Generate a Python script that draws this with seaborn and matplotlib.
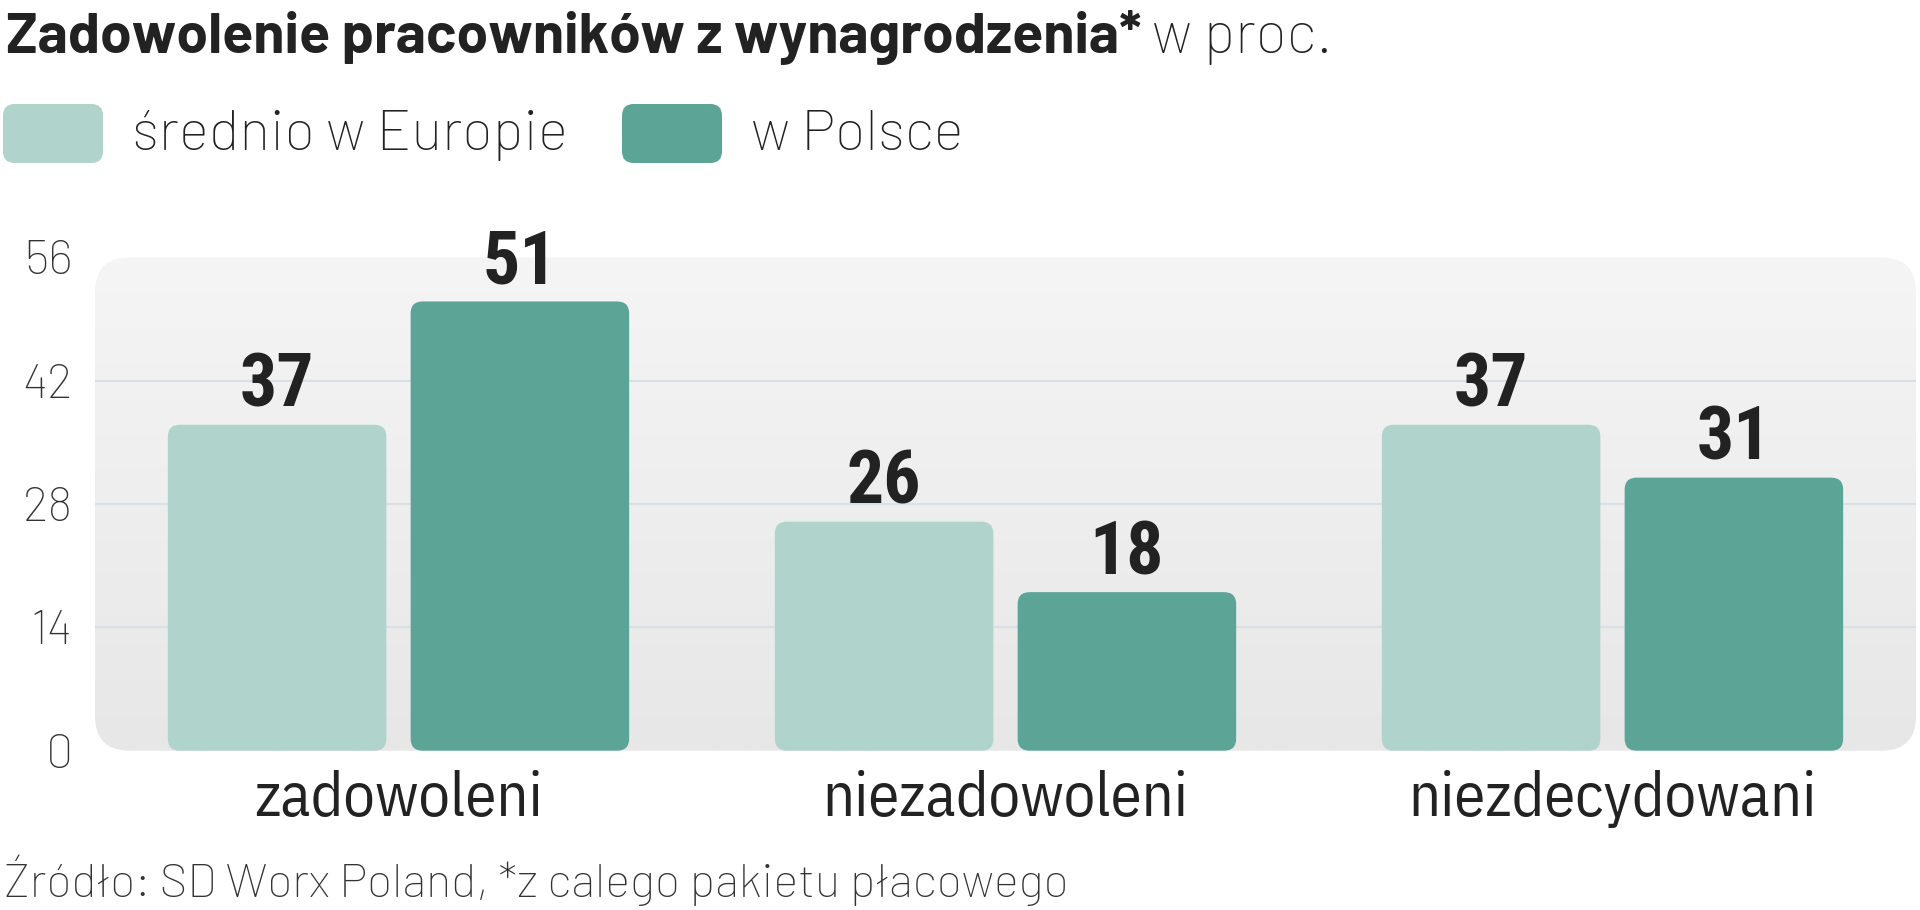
import matplotlib
matplotlib.use("Agg")
import numpy as np
import pandas as pd
import matplotlib.pyplot as plt
import seaborn as sns
from matplotlib.patches import FancyBboxPatch
from matplotlib.colors import LinearSegmentedColormap

categories = ["zadowoleni", "niezadowoleni", "niezdecydowani"]
series = ["średnio w Europie", "w Polsce"]
europe = [37, 26, 37]
poland = [51, 18, 31]
y_ticks = [0, 14, 28, 42, 56]

title_bold = "Zadowolenie pracowników z wynagrodzenia*"
title_light = "w proc."
source = "Źródło: SD Worx Poland, *z calego pakietu płacowego"

COLORS = ["#b0d3cc", "#5ca596"]
TEXT = "#222222"
LIGHT = "Barlow"
BOLD_NUM = "Roboto Condensed"
CAT = "IBM Plex Sans Condensed"

W, H = 1920, 910


def fx(px):
    return px / W


def fy(py):
    return 1 - py / H


sns.set_theme(style="white")
plt.rcParams["font.family"] = [LIGHT, "DejaVu Sans"]

df = pd.DataFrame({
    "kategoria": categories * 2,
    "seria": [series[0]] * len(categories) + [series[1]] * len(categories),
    "wartosc": europe + poland,
})

fig = plt.figure(figsize=(W / 100, H / 100), dpi=100)
ax = fig.add_axes([fx(95), fy(750.7), fx(1821), 493.3 / H])

sns.barplot(data=df, x="kategoria", y="wartosc", hue="seria", palette=COLORS,
            width=0.8, gap=0.1, saturation=1, legend=False, ax=ax)

# rounded gradient background
bg = FancyBboxPatch((0, 0), 1, 1, boxstyle="round,pad=0,rounding_size=0.019",
                    mutation_aspect=3.7, transform=ax.transAxes, fc="none", ec="none")
ax.add_patch(bg)
grad = np.linspace(0, 1, 256).reshape(-1, 1)
cmap = LinearSegmentedColormap.from_list("bg", ["#e7e7e7", "#f5f5f6"])
im = ax.imshow(grad, extent=[0, 1, 0, 1], transform=ax.transAxes, origin="lower",
               cmap=cmap, aspect="auto", zorder=0, interpolation="bilinear")
im.set_clip_path(bg)

# rounded bars + value labels
for bar in list(ax.patches):
    if bar is bg:
        continue
    x, w, h = bar.get_x(), bar.get_width(), bar.get_height()
    rb = FancyBboxPatch((x, 0), w, h, boxstyle="round,pad=0,rounding_size=0.02",
                        mutation_aspect=68, fc=bar.get_facecolor(), ec="none", zorder=3)
    bar.remove()
    ax.add_patch(rb)
    ax.annotate(f"{h:.0f}", (x + w / 2, h), xytext=(0, 13), textcoords="offset points",
                ha="center", va="baseline", fontsize=53, fontweight="bold",
                family=BOLD_NUM, color=TEXT, zorder=4)

ax.set_xlim(-0.5, 2.5)
ax.set_ylim(0, 56)
ax.set_yticks(y_ticks)
ax.set_xlabel("")
ax.set_ylabel("")
ax.patch.set_visible(False)
for s in ax.spines.values():
    s.set_visible(False)

ax.set_axisbelow(True)
ax.yaxis.grid(True, color="#d8e0e6", linewidth=1.5)
grid = ax.yaxis.get_gridlines()
grid[0].set_visible(False)
grid[-1].set_visible(False)

ax.tick_params(axis="y", length=0, pad=16, labelsize=35, labelcolor="#333333")
ax.tick_params(axis="x", length=0, pad=14, labelsize=45, labelcolor=TEXT)
for lab in ax.get_yticklabels():
    lab.set_fontweight("light")
for lab in ax.get_xticklabels():
    lab.set_family(CAT)

# title
t1 = fig.text(fx(6), fy(53), title_bold, family=LIGHT, fontweight="bold",
              fontsize=41, color=TEXT, va="baseline")
fig.canvas.draw()
ext = t1.get_window_extent()
fig.text((ext.x1 + 10) / W, fy(53), title_light, family=LIGHT, fontweight="light",
         fontsize=42, color=TEXT, va="baseline")

# legend
for (x0, label), col in zip([(3, series[0]), (622, series[1])], COLORS):
    fig.patches.append(FancyBboxPatch((fx(x0), fy(163)), fx(100), 59 / H,
                                      boxstyle="round,pad=0,rounding_size=0.006",
                                      mutation_aspect=2.1, transform=fig.transFigure,
                                      fc=col, ec="none", figure=fig))
    fig.text(fx(x0 + 129), fy(150), label, family=LIGHT, fontweight="light",
             fontsize=41, color=TEXT, va="baseline")

fig.text(fx(4), fy(897), source, family=LIGHT, fontweight="light",
         fontsize=34, color="#333333", va="baseline")

fig.savefig("out.png", dpi=100)
